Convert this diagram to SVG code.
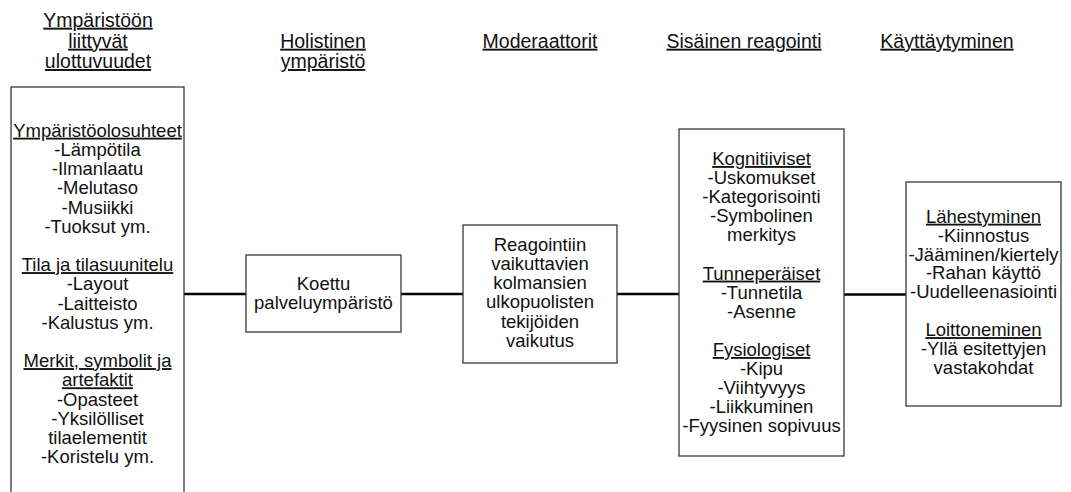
<svg xmlns="http://www.w3.org/2000/svg" width="1071" height="492" viewBox="0 0 1071 492">
<style>
text{font-family:"Liberation Sans",Arial,sans-serif;fill:#111;text-anchor:middle}
.h{font-size:19.5px;text-decoration:underline}
.b{font-size:18.5px}
.u{text-decoration:underline}
.box{fill:#fff;stroke:#3a3a3a;stroke-width:1.3}
.c{stroke:#000;stroke-width:2.6;fill:none}
</style>
<g id="headings">
<text class="h" x="98" y="26.7">Ympäristöön</text>
<text class="h" x="98" y="47.7">liittyvät</text>
<text class="h" x="98" y="68">ulottuvuudet</text>
<text class="h" x="323" y="47.7">Holistinen</text>
<text class="h" x="323" y="68">ympäristö</text>
<text class="h" x="540" y="47.7">Moderaattorit</text>
<text class="h" x="744" y="47.7">Sisäinen reagointi</text>
<text class="h" x="947" y="47.7">Käyttäytyminen</text>
</g>
<g id="connectors">
<line class="c" x1="184" y1="294" x2="246" y2="294"/>
<line class="c" x1="401" y1="294" x2="463" y2="294"/>
<line class="c" x1="617" y1="294" x2="679" y2="294"/>
<line class="c" x1="844" y1="294.5" x2="906" y2="294.5"/>
</g>
<g id="node-ulottuvuudet">
<rect class="box" x="11" y="87" width="173" height="420"/>
<text class="b" x="97.5" y="136.7"><tspan class="u">Ympäristöolosuhteet</tspan></text>
<text class="b" x="97.5" y="155.9">-Lämpötila</text>
<text class="b" x="97.5" y="175.1">-Ilmanlaatu</text>
<text class="b" x="97.5" y="194.3">-Melutaso</text>
<text class="b" x="97.5" y="213.5">-Musiikki</text>
<text class="b" x="97.5" y="232.7">-Tuoksut ym.</text>
<text class="b" x="97.5" y="271.1"><tspan class="u">Tila ja tilasuunitelu</tspan></text>
<text class="b" x="97.5" y="290.3">-Layout</text>
<text class="b" x="97.5" y="309.5">-Laitteisto</text>
<text class="b" x="97.5" y="328.7">-Kalustus ym.</text>
<text class="b" x="97.5" y="367.1"><tspan class="u">Merkit, symbolit ja</tspan></text>
<text class="b" x="97.5" y="386.3"><tspan class="u">artefaktit</tspan></text>
<text class="b" x="97.5" y="405.5">-Opasteet</text>
<text class="b" x="97.5" y="424.7">-Yksilölliset</text>
<text class="b" x="97.5" y="443.9">tilaelementit</text>
<text class="b" x="97.5" y="463.1">-Koristelu ym.</text>
</g>
<g id="node-holistinen">
<rect class="box" x="246" y="255" width="155" height="77"/>
<text class="b" x="323.5" y="290">Koettu</text>
<text class="b" x="323.5" y="309.3">palveluympäristö</text>
</g>
<g id="node-moderaattorit">
<rect class="box" x="463" y="225" width="154" height="138"/>
<text class="b" x="540" y="250.7">Reagointiin</text>
<text class="b" x="540" y="269.9">vaikuttavien</text>
<text class="b" x="540" y="289.1">kolmansien</text>
<text class="b" x="540" y="308.3">ulkopuolisten</text>
<text class="b" x="540" y="327.5">tekijöiden</text>
<text class="b" x="540" y="346.7">vaikutus</text>
</g>
<g id="node-sisainen">
<rect class="box" x="679" y="129" width="165" height="327"/>
<text class="b" x="761.5" y="165"><tspan class="u">Kognitiiviset</tspan></text>
<text class="b" x="761.5" y="184.1">-Uskomukset</text>
<text class="b" x="761.5" y="203.2">-Kategorisointi</text>
<text class="b" x="761.5" y="222.3">-Symbolinen</text>
<text class="b" x="761.5" y="241.4">merkitys</text>
<text class="b" x="761.5" y="279.6"><tspan class="u">Tunneperäiset</tspan></text>
<text class="b" x="761.5" y="298.7">-Tunnetila</text>
<text class="b" x="761.5" y="317.8">-Asenne</text>
<text class="b" x="761.5" y="356"><tspan class="u">Fysiologiset</tspan></text>
<text class="b" x="761.5" y="375.1">-Kipu</text>
<text class="b" x="761.5" y="394.2">-Viihtyvyys</text>
<text class="b" x="761.5" y="413.3">-Liikkuminen</text>
<text class="b" x="761.5" y="432.4">-Fyysinen sopivuus</text>
</g>
<g id="node-kayttaytyminen">
<rect class="box" x="906" y="182" width="155" height="224"/>
<text class="b" x="983.5" y="222.7"><tspan class="u">Lähestyminen</tspan></text>
<text class="b" x="983.5" y="241.6">-Kiinnostus</text>
<text class="b" x="983.5" y="260.5">-Jääminen/kiertely</text>
<text class="b" x="983.5" y="279.4">-Rahan käyttö</text>
<text class="b" x="983.5" y="298.3">-Uudelleenasiointi</text>
<text class="b" x="983.5" y="336.1"><tspan class="u">Loittoneminen</tspan></text>
<text class="b" x="983.5" y="355">-Yllä esitettyjen</text>
<text class="b" x="983.5" y="373.9">vastakohdat</text>
</g>
</svg>
